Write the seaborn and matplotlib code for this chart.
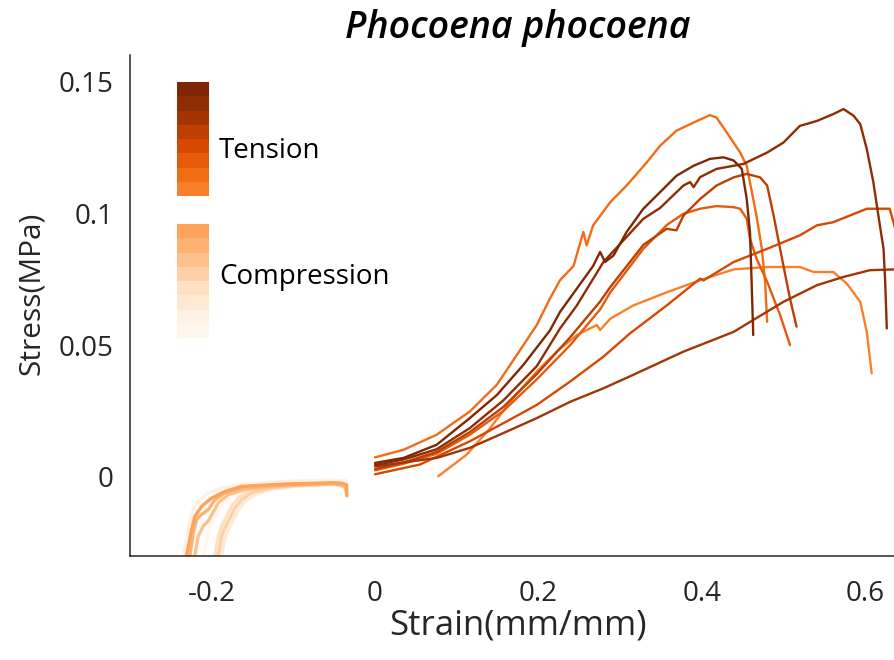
import numpy as np
import pandas as pd
import matplotlib
matplotlib.use("Agg")
import matplotlib.pyplot as plt
from matplotlib.colors import ListedColormap
import seaborn as sns

# ---------------- data ----------------
title = "Phocoena phocoena"
xlabel = "Strain(mm/mm)"
ylabel = "Stress(MPa)"
x_ticks = [-0.2, 0.0, 0.2, 0.4, 0.6]
x_tick_labels = ["-0.2", "0", "0.2", "0.4", "0.6"]
y_ticks = [0.0, 0.05, 0.10, 0.15]
y_tick_labels = ["0", "0.05", "0.1", "0.15"]

tension_colors = ["#7f2704", "#8e2d04", "#a23503", "#bd4002",
                  "#d74801", "#e75a0b", "#f26c16", "#f8802b"]
compression_colors = ["#fda35b", "#fdb273", "#fdc18d", "#fdd0a8",
                      "#fee0c2", "#fee9d5", "#fff1e4", "#fff6ee"]

# tension curves (darkest -> lightest)
t_B_x = [0.0, 0.035, 0.0755, 0.116, 0.149, 0.1816, 0.214, 0.2265, 0.247, 0.267, 0.2755, 0.2816,
         0.292, 0.308, 0.3285, 0.349, 0.369, 0.39, 0.41, 0.4265, 0.439, 0.449, 0.455, 0.459, 0.461, 0.463]
t_B_y = [0.0053, 0.0072, 0.0122, 0.0223, 0.031, 0.0425, 0.0555, 0.0626, 0.0714, 0.080, 0.0853, 0.0815,
         0.084, 0.0929, 0.1017, 0.108, 0.1142, 0.118, 0.1206, 0.1212, 0.120, 0.1168, 0.1054, 0.0929, 0.074, 0.0538]

t_C_x = [0.0, 0.035, 0.0755, 0.116, 0.157, 0.198, 0.2265, 0.247, 0.2796, 0.296, 0.3285, 0.349, 0.3775,
         0.3857, 0.39, 0.398, 0.418, 0.439, 0.451, 0.48, 0.50, 0.52, 0.541, 0.561, 0.5735, 0.5857, 0.594,
         0.602, 0.61, 0.618, 0.6225, 0.6245, 0.6265]
t_C_y = [0.0045, 0.0066, 0.0105, 0.0185, 0.029, 0.042, 0.0563, 0.065, 0.0815, 0.087, 0.0979, 0.102, 0.1105,
         0.1118, 0.1099, 0.1137, 0.1168, 0.118, 0.1187, 0.123, 0.1268, 0.1331, 0.135, 0.1376, 0.1395, 0.137, 0.1338,
         0.1243, 0.1118, 0.0954, 0.0865, 0.074, 0.0563]

t_I_x = [0.0, 0.0755, 0.116, 0.157, 0.198, 0.239, 0.2796, 0.316, 0.3775, 0.439, 0.463, 0.50, 0.541,
         0.573, 0.606, 0.637, 0.65]
t_I_y = [0.004, 0.0072, 0.011, 0.0166, 0.0223, 0.0285, 0.0336, 0.0387, 0.0475, 0.055, 0.0595, 0.0664, 0.0727,
         0.0758, 0.0784, 0.0787, 0.0787]

t_D_x = [0.0, 0.035, 0.0755, 0.116, 0.157, 0.198, 0.239, 0.2755, 0.288, 0.3285, 0.357, 0.369, 0.3775,
         0.398, 0.418, 0.439, 0.455, 0.4714, 0.48, 0.488, 0.50, 0.508, 0.516]
t_D_y = [0.003, 0.0055, 0.0095, 0.017, 0.0265, 0.039, 0.053, 0.0665, 0.072, 0.088, 0.0941, 0.0935, 0.0991,
         0.1054, 0.1105, 0.1136, 0.1149, 0.1136, 0.1105, 0.099, 0.080, 0.0676, 0.057]

t_G_x = [0.0, 0.055, 0.116, 0.165, 0.198, 0.239, 0.2796, 0.312, 0.357, 0.398, 0.402, 0.439, 0.48,
         0.52, 0.541, 0.561, 0.602, 0.63, 0.637, 0.645]
t_G_y = [0.001, 0.0047, 0.0135, 0.0217, 0.0273, 0.0362, 0.0456, 0.0544, 0.065, 0.0752, 0.0745, 0.0815, 0.0865,
         0.0916, 0.0954, 0.0966, 0.1017, 0.1017, 0.094, 0.085]

t_E_x = [0.0, 0.035, 0.0755, 0.116, 0.157, 0.198, 0.239, 0.2755, 0.288, 0.3285, 0.357, 0.3775, 0.398,
         0.418, 0.439, 0.447, 0.455, 0.459, 0.467, 0.48, 0.496, 0.508]
t_E_y = [0.0025, 0.005, 0.0088, 0.016, 0.025, 0.037, 0.050, 0.0635, 0.070, 0.0865, 0.0955, 0.0998, 0.1017,
         0.1027, 0.1023, 0.1017, 0.0979, 0.0903, 0.0828, 0.074, 0.0613, 0.050]

t_A_x = [0.0, 0.035, 0.0755, 0.116, 0.149, 0.1735, 0.198, 0.214, 0.2265, 0.243, 0.255, 0.259, 0.267,
         0.288, 0.308, 0.3327, 0.349, 0.369, 0.39, 0.41, 0.418, 0.4306, 0.447, 0.455, 0.467, 0.4735, 0.4775, 0.48]
t_A_y = [0.0074, 0.0103, 0.016, 0.0248, 0.0349, 0.0462, 0.0576, 0.0676, 0.0746, 0.080, 0.0929, 0.0878, 0.0954,
         0.1042, 0.1105, 0.1193, 0.1256, 0.1313, 0.1344, 0.1372, 0.1363, 0.1306, 0.123, 0.118, 0.099, 0.0865, 0.074, 0.0588]

t_H_x = [0.0775, 0.112, 0.141, 0.169, 0.198, 0.2225, 0.247, 0.2715, 0.2755, 0.288, 0.316, 0.357, 0.398,
         0.439, 0.48, 0.52, 0.537, 0.561, 0.5775, 0.594, 0.602, 0.608]
t_H_y = [0.0003, 0.0084, 0.0185, 0.0299, 0.040, 0.0475, 0.0538, 0.0576, 0.0557, 0.060, 0.065, 0.070, 0.0746,
         0.0787, 0.0796, 0.0796, 0.0777, 0.0777, 0.0733, 0.0664, 0.055, 0.0393]

# compression curves (darkest -> lightest)
c_1_x = [-0.234, -0.2306, -0.2245, -0.2204, -0.2122, -0.2000, -0.1837, -0.1632, -0.1286, -0.10, -0.07, -0.05, -0.04, -0.035, -0.0345]
c_1_y = [-0.04, -0.0294, -0.0199, -0.0149, -0.0111, -0.0080, -0.0055, -0.0036, -0.0030, -0.0026, -0.0024, -0.0022, -0.0025, -0.003, -0.0072]
c_2_x = [-0.230, -0.2265, -0.2225, -0.2184, -0.2122, -0.2041, -0.1959, -0.1837, -0.1632, -0.13, -0.10, -0.07, -0.05, -0.037, -0.035]
c_2_y = [-0.04, -0.0294, -0.0212, -0.0161, -0.0142, -0.0124, -0.0086, -0.0060, -0.0042, -0.0033, -0.0030, -0.0027, -0.0025, -0.0030, -0.0055]
c_3_x = [-0.223, -0.2204, -0.2164, -0.2102, -0.2041, -0.1918, -0.1796, -0.1592, -0.13, -0.10, -0.07, -0.05, -0.035]
c_3_y = [-0.04, -0.0294, -0.0224, -0.0186, -0.0167, -0.0098, -0.0067, -0.0048, -0.0037, -0.0032, -0.0028, -0.0026, -0.0040]
c_4_x = [-0.194, -0.1918, -0.1877, -0.1837, -0.1775, -0.1714, -0.1632, -0.1510, -0.1286, -0.10, -0.07, -0.05, -0.036, -0.035]
c_4_y = [-0.04, -0.0294, -0.0224, -0.0193, -0.0155, -0.0117, -0.0086, -0.0060, -0.0042, -0.0033, -0.0029, -0.0027, -0.0035, -0.0065]
c_5_x = [-0.198, -0.1959, -0.1918, -0.1877, -0.1816, -0.1755, -0.1673, -0.1551, -0.1286, -0.10, -0.07, -0.05, -0.035]
c_5_y = [-0.04, -0.0294, -0.0224, -0.0186, -0.0149, -0.0111, -0.0079, -0.0054, -0.0035, -0.0029, -0.0025, -0.0023, -0.0030]
c_6_x = [-0.190, -0.1877, -0.1837, -0.1796, -0.1735, -0.1673, -0.1592, -0.1469, -0.1286, -0.10, -0.07, -0.05, -0.035]
c_6_y = [-0.04, -0.0294, -0.0231, -0.0199, -0.0161, -0.0124, -0.0092, -0.0067, -0.0048, -0.0036, -0.0031, -0.0028, -0.0032]
c_7_x = [-0.238, -0.2347, -0.2286, -0.2225, -0.2164, -0.2041, -0.1877, -0.1632, -0.1286, -0.10, -0.07, -0.05, -0.035]
c_7_y = [-0.04, -0.0294, -0.0199, -0.0124, -0.0092, -0.0060, -0.0042, -0.0029, -0.0020, -0.0016, -0.0013, -0.0012, -0.0015]
c_8_x = [-0.213, -0.2102, -0.2061, -0.2000, -0.1918, -0.1796, -0.1592, -0.13, -0.10, -0.07, -0.05, -0.035]
c_8_y = [-0.04, -0.0294, -0.0237, -0.0174, -0.0124, -0.0079, -0.0048, -0.0032, -0.0025, -0.0020, -0.0018, -0.0020]

tension = [(t_B_x, t_B_y), (t_C_x, t_C_y), (t_I_x, t_I_y), (t_D_x, t_D_y),
           (t_G_x, t_G_y), (t_E_x, t_E_y), (t_A_x, t_A_y), (t_H_x, t_H_y)]
compression = [(c_1_x, c_1_y), (c_2_x, c_2_y), (c_3_x, c_3_y), (c_4_x, c_4_y),
               (c_5_x, c_5_y), (c_6_x, c_6_y), (c_7_x, c_7_y), (c_8_x, c_8_y)]

# ---------------- style ----------------
sns.set_style("white")
plt.rcParams["font.family"] = ["Open Sans", "DejaVu Sans"]
dark = "#262626"

fig = plt.figure(figsize=(8.95, 6.6), dpi=100)
ax = fig.add_axes([130 / 895, 104 / 660, 776 / 895, 501 / 660])

rows = []
for i, (xs, ys) in enumerate(compression):
    rows.append(pd.DataFrame({"strain": xs, "stress": ys, "id": f"c{i}"}))
for i, (xs, ys) in enumerate(tension):
    rows.append(pd.DataFrame({"strain": xs, "stress": ys, "id": f"t{i}"}))
df = pd.concat(rows, ignore_index=True)

for i in range(len(compression) - 1, -1, -1):
    sub = df[df["id"] == f"c{i}"]
    sns.lineplot(data=sub, x="strain", y="stress", sort=False, estimator=None,
                 color=compression_colors[i], lw=2.4, ax=ax)
for i in range(len(tension) - 1, -1, -1):
    sub = df[df["id"] == f"t{i}"]
    sns.lineplot(data=sub, x="strain", y="stress", sort=False, estimator=None,
                 color=tension_colors[i], lw=1.7, ax=ax)

ax.set_xlim(-0.3, 0.65)
ax.set_ylim(-0.03, 0.16)
ax.set_xticks(x_ticks)
ax.set_xticklabels(x_tick_labels)
ax.set_yticks(y_ticks)
ax.set_yticklabels(y_tick_labels)
ax.tick_params(direction="in", length=5, width=1.0, colors=dark, labelsize=20)
ax.tick_params(axis="x", pad=17)
ax.tick_params(axis="y", pad=12)
for s in ["top", "right"]:
    ax.spines[s].set_visible(False)
for s in ["left", "bottom"]:
    ax.spines[s].set_color(dark)
    ax.spines[s].set_linewidth(1.1)
ax.set_xlabel(xlabel, fontsize=25, color=dark, labelpad=1)
ax.set_ylabel(ylabel, fontsize=21.5, color=dark)
ax.yaxis.set_label_coords(-0.108, 0.525)
ax.set_title(title, fontsize=27, fontstyle="italic", fontweight="semibold", color="black", pad=12)

# legend colour strips
lax1 = fig.add_axes([177 / 895, (660 - 196) / 660, 32 / 895, 114 / 660])
sns.heatmap(np.arange(len(tension_colors)).reshape(-1, 1), cmap=ListedColormap(tension_colors),
            cbar=False, ax=lax1, xticklabels=False, yticklabels=False)
lax2 = fig.add_axes([177 / 895, (660 - 338) / 660, 32 / 895, 114 / 660])
sns.heatmap(np.arange(len(compression_colors)).reshape(-1, 1), cmap=ListedColormap(compression_colors),
            cbar=False, ax=lax2, xticklabels=False, yticklabels=False)
for a in (lax1, lax2):
    a.set_axis_off()
fig.text(219 / 895, (660 - 158) / 660, "Tension", fontsize=20, color="black", va="baseline")
fig.text(219 / 895, (660 - 284) / 660, "Compression", fontsize=20, color="black", va="baseline")

fig.savefig("out.png", dpi=100)
